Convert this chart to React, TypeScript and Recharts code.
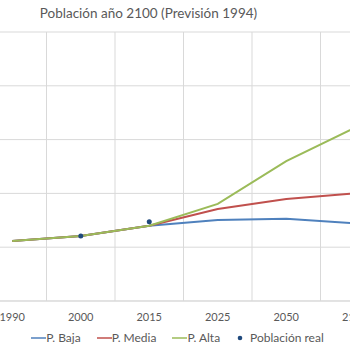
import React from 'react';
import { LineChart, Line, XAxis, YAxis, CartesianGrid, ReferenceLine, Legend } from 'recharts';

const years = ['1990', '2000', '2015', '2025', '2050', '2100'];
const pBaja = [2.23, 2.42, 2.8, 3.01, 3.06, 2.89];
const pMedia = [2.23, 2.42, 2.8, 3.42, 3.79, 4.0];
const pAlta = [2.23, 2.42, 2.8, 3.61, 5.2, 6.44];
const poblacionReal: (number | null)[] = [null, 2.42, 2.95, null, null, null];
const yTicks = [0, 2, 4, 6, 8, 10];
const boundaries = [-0.5, 0.5, 1.5, 2.5, 3.5, 4.5, 5.5];
const legendOrder = ['baja', 'media', 'alta', 'real'];

const data = years.map((y, i) => ({
  i,
  year: y,
  baja: pBaja[i],
  media: pMedia[i],
  alta: pAlta[i],
  real: poblacionReal[i],
}));

const FONT = 'Lato, "Open Sans", sans-serif';
const GRID = '#d9d9d9';
const TEXT = '#595959';

const LegendContent = (props: any) => {
  const payload = [...(props.payload || [])].sort(
    (a: any, b: any) => legendOrder.indexOf(a.dataKey) - legendOrder.indexOf(b.dataKey)
  );
  return (
    <div style={{ display: 'flex', justifyContent: 'center', alignItems: 'center', fontFamily: FONT, fontSize: 12, color: TEXT, height: 25, paddingLeft: 5 }}>
      {payload.map((p: any, idx: number) => (
        <div key={idx} style={{ display: 'flex', alignItems: 'center', marginRight: idx < payload.length - 1 ? 16 : 0 }}>
          {p.dataKey === 'real' ? (
            <svg width={8} height={10}>
              <circle cx={4} cy={5} r={2.3} fill="#1F497D" />
            </svg>
          ) : (
            <svg width={15} height={10}>
              <line x1={0} y1={5} x2={15} y2={5} stroke={p.color} strokeWidth={1.5} />
            </svg>
          )}
          <span style={{ marginLeft: p.dataKey === 'real' ? 6 : 0 }}>{p.value}</span>
        </div>
      ))}
    </div>
  );
};

export default function App() {
  return (
    <div style={{ position: 'fixed', left: 0, top: 0, width: 350, height: 350, overflow: 'hidden', background: '#fff' }}>
      <div style={{ position: 'absolute', left: 0, width: 297, top: 5, textAlign: 'center', fontFamily: FONT, fontSize: 13.5, color: TEXT }}>
        Población año 2100 (Previsión 1994)
      </div>
      <div style={{ position: 'absolute', left: -22, top: 0 }}>
        <LineChart width={411} height={350} data={data} margin={{ top: 32, right: 0, bottom: 0, left: 0 }}>
          <CartesianGrid vertical={false} stroke={GRID} />
          <YAxis hide domain={[0, 10]} ticks={yTicks} type="number" />
          <XAxis
            dataKey="i"
            type="number"
            domain={[-0.5, 5.5]}
            ticks={[0, 1, 2, 3, 4, 5]}
            tickFormatter={(v: number) => years[v]}
            axisLine={{ stroke: GRID }}
            tickLine={false}
            tickMargin={6}
            height={24}
            tick={{ fontFamily: FONT, fontSize: 11, fill: TEXT }}
          />
          {boundaries.map((b) => (
            <ReferenceLine key={b} x={b} stroke={GRID} />
          ))}
          <Legend
            content={<LegendContent />}
            wrapperStyle={{ left: 22, width: 350, height: 25, bottom: 0 }}
          />
          <Line type="linear" dataKey="baja" name="P. Baja" stroke="#4F81BD" strokeWidth={2} dot={false} isAnimationActive={false} />
          <Line type="linear" dataKey="media" name="P. Media" stroke="#C0504D" strokeWidth={2} dot={false} isAnimationActive={false} />
          <Line type="linear" dataKey="alta" name="P. Alta" stroke="#9BBB59" strokeWidth={2} dot={false} isAnimationActive={false} />
          <Line type="linear" dataKey="real" name="Población real" stroke="none" dot={{ r: 2.5, fill: '#1F497D', stroke: 'none' }} activeDot={false} isAnimationActive={false} />
        </LineChart>
      </div>
    </div>
  );
}
